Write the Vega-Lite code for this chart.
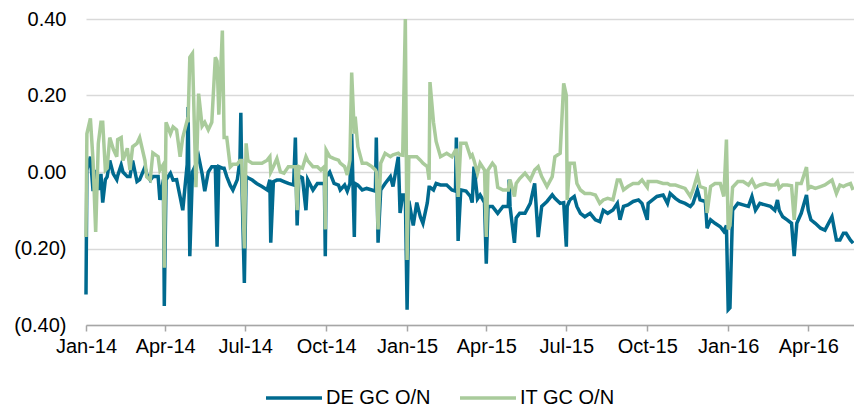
{
"$schema":"https://vega.github.io/schema/vega-lite/v6.json",
"width":768,"height":306,
"autosize":{"type":"none"},
"padding":{"left":86,"top":19,"right":0,"bottom":82},
"background":"white",
"config":{"view":{"stroke":null},"font":"Liberation Sans"},
"data":{"values":[
{"d":"2014-01-01","DE":-0.32,"IT":-0.17},
{"d":"2014-01-02","DE":0.005,"IT":0.10},
{"d":"2014-01-06","DE":0.04,"IT":0.14},
{"d":"2014-01-09","DE":-0.05,"IT":0.03},
{"d":"2014-01-12","DE":0.005,"IT":-0.157},
{"d":"2014-01-15","DE":-0.047,"IT":0.075},
{"d":"2014-01-18","DE":-0.005,"IT":0.13},
{"d":"2014-01-20","DE":-0.08,"IT":0.13},
{"d":"2014-01-23","DE":-0.02,"IT":0.005},
{"d":"2014-01-25","DE":-0.013,"IT":0.01},
{"d":"2014-01-28","DE":0.03,"IT":0.09},
{"d":"2014-02-01","DE":-0.005,"IT":0.06},
{"d":"2014-02-05","DE":-0.02,"IT":0.04},
{"d":"2014-02-06","DE":-0.01,"IT":0.085},
{"d":"2014-02-10","DE":0.018,"IT":0.09},
{"d":"2014-02-12","DE":0.0,"IT":0.03},
{"d":"2014-02-17","DE":-0.012,"IT":0.062},
{"d":"2014-02-20","DE":-0.012,"IT":0.005},
{"d":"2014-02-23","DE":0.03,"IT":0.066},
{"d":"2014-02-28","DE":-0.025,"IT":0.075},
{"d":"2014-03-03","DE":-0.02,"IT":0.09},
{"d":"2014-03-09","DE":0.013,"IT":0.03},
{"d":"2014-03-11","DE":-0.005,"IT":-0.013},
{"d":"2014-03-15","DE":-0.021,"IT":-0.021},
{"d":"2014-03-18","DE":-0.012,"IT":0.05},
{"d":"2014-03-24","DE":-0.012,"IT":0.04},
{"d":"2014-03-26","DE":-0.073,"IT":0.005},
{"d":"2014-03-30","DE":-0.02,"IT":0.02},
{"d":"2014-03-31","DE":-0.35,"IT":-0.25},
{"d":"2014-04-02","DE":-0.02,"IT":0.13},
{"d":"2014-04-07","DE":-0.003,"IT":0.10},
{"d":"2014-04-10","DE":-0.021,"IT":0.118},
{"d":"2014-04-14","DE":-0.02,"IT":0.11},
{"d":"2014-04-18","DE":-0.065,"IT":0.04},
{"d":"2014-04-21","DE":-0.10,"IT":0.09},
{"d":"2014-04-26","DE":0.02,"IT":0.135},
{"d":"2014-04-27","DE":0.17,"IT":0.13},
{"d":"2014-04-29","DE":-0.22,"IT":0.30},
{"d":"2014-05-02","DE":0.0,"IT":0.31},
{"d":"2014-05-06","DE":0.02,"IT":-0.04},
{"d":"2014-05-09","DE":0.04,"IT":0.205},
{"d":"2014-05-13","DE":-0.005,"IT":0.12},
{"d":"2014-05-16","DE":-0.05,"IT":0.13},
{"d":"2014-05-20","DE":0.0,"IT":0.11},
{"d":"2014-05-24","DE":0.014,"IT":0.13},
{"d":"2014-05-28","DE":0.014,"IT":0.30},
{"d":"2014-05-30","DE":-0.195,"IT":0.29},
{"d":"2014-06-01","DE":0.014,"IT":0.15},
{"d":"2014-06-05","DE":0.01,"IT":0.37},
{"d":"2014-06-07","DE":0.01,"IT":0.09},
{"d":"2014-06-10","DE":-0.012,"IT":0.09},
{"d":"2014-06-14","DE":-0.035,"IT":0.013},
{"d":"2014-06-17","DE":-0.047,"IT":0.02},
{"d":"2014-06-22","DE":-0.02,"IT":0.02},
{"d":"2014-06-25","DE":0.03,"IT":0.03},
{"d":"2014-06-26","DE":0.155,"IT":0.03},
{"d":"2014-06-27","DE":-0.01,"IT":0.03},
{"d":"2014-06-30","DE":-0.29,"IT":-0.20},
{"d":"2014-07-02","DE":-0.012,"IT":0.075},
{"d":"2014-07-04","DE":-0.015,"IT":0.03},
{"d":"2014-07-09","DE":-0.021,"IT":0.023},
{"d":"2014-07-14","DE":-0.03,"IT":0.023},
{"d":"2014-07-20","DE":-0.038,"IT":0.023},
{"d":"2014-07-26","DE":-0.047,"IT":0.031},
{"d":"2014-07-29","DE":-0.02,"IT":0.04},
{"d":"2014-07-30","DE":-0.185,"IT":0.0},
{"d":"2014-08-02","DE":-0.025,"IT":0.014},
{"d":"2014-08-06","DE":-0.021,"IT":0.035},
{"d":"2014-08-10","DE":-0.021,"IT":0.0},
{"d":"2014-08-14","DE":-0.025,"IT":-0.003},
{"d":"2014-08-19","DE":-0.03,"IT":0.014},
{"d":"2014-08-25","DE":-0.034,"IT":0.014},
{"d":"2014-08-27","DE":0.09,"IT":0.014},
{"d":"2014-08-29","DE":-0.14,"IT":-0.10},
{"d":"2014-08-31","DE":-0.01,"IT":0.014},
{"d":"2014-09-04","DE":-0.015,"IT":0.01},
{"d":"2014-09-08","DE":-0.10,"IT":0.04},
{"d":"2014-09-10","DE":-0.02,"IT":0.03},
{"d":"2014-09-16","DE":-0.047,"IT":0.014},
{"d":"2014-09-21","DE":-0.03,"IT":0.014},
{"d":"2014-09-25","DE":-0.03,"IT":0.005},
{"d":"2014-09-29","DE":-0.03,"IT":0.014},
{"d":"2014-09-30","DE":-0.22,"IT":-0.15},
{"d":"2014-10-01","DE":-0.012,"IT":0.057},
{"d":"2014-10-05","DE":0.0,"IT":0.04},
{"d":"2014-10-10","DE":-0.03,"IT":0.035},
{"d":"2014-10-15","DE":-0.034,"IT":0.031},
{"d":"2014-10-17","DE":-0.047,"IT":0.023},
{"d":"2014-10-22","DE":-0.034,"IT":0.014},
{"d":"2014-10-25","DE":-0.05,"IT":-0.008},
{"d":"2014-10-28","DE":-0.03,"IT":0.031},
{"d":"2014-10-30","DE":0.10,"IT":0.26},
{"d":"2014-11-02","DE":-0.17,"IT":0.10},
{"d":"2014-11-03","DE":-0.03,"IT":0.145},
{"d":"2014-11-06","DE":-0.034,"IT":0.066},
{"d":"2014-11-11","DE":-0.047,"IT":0.023},
{"d":"2014-11-16","DE":-0.043,"IT":0.023},
{"d":"2014-11-22","DE":-0.047,"IT":0.014},
{"d":"2014-11-26","DE":-0.05,"IT":0.005},
{"d":"2014-11-27","DE":0.09,"IT":0.0},
{"d":"2014-11-29","DE":-0.185,"IT":-0.15},
{"d":"2014-12-02","DE":-0.047,"IT":0.023},
{"d":"2014-12-07","DE":-0.03,"IT":0.049},
{"d":"2014-12-13","DE":-0.012,"IT":0.04},
{"d":"2014-12-16","DE":-0.038,"IT":0.045},
{"d":"2014-12-22","DE":0.04,"IT":0.049},
{"d":"2014-12-24","DE":-0.107,"IT":0.045},
{"d":"2014-12-27","DE":-0.06,"IT":0.044},
{"d":"2014-12-30","DE":-0.06,"IT":0.40},
{"d":"2015-01-01","DE":-0.36,"IT":-0.23},
{"d":"2015-01-03","DE":-0.075,"IT":0.04},
{"d":"2015-01-08","DE":-0.14,"IT":0.04},
{"d":"2015-01-12","DE":-0.08,"IT":0.04},
{"d":"2015-01-16","DE":-0.117,"IT":0.031},
{"d":"2015-01-19","DE":-0.134,"IT":0.023},
{"d":"2015-01-24","DE":-0.08,"IT":0.014},
{"d":"2015-01-26","DE":-0.04,"IT":-0.02},
{"d":"2015-01-27","DE":-0.04,"IT":0.235},
{"d":"2015-01-31","DE":-0.047,"IT":0.13},
{"d":"2015-02-03","DE":-0.03,"IT":0.08},
{"d":"2015-02-08","DE":-0.034,"IT":0.04},
{"d":"2015-02-15","DE":-0.034,"IT":0.049},
{"d":"2015-02-21","DE":-0.047,"IT":0.04},
{"d":"2015-02-25","DE":-0.05,"IT":0.057},
{"d":"2015-02-26","DE":0.09,"IT":0.057},
{"d":"2015-02-28","DE":-0.18,"IT":-0.065},
{"d":"2015-03-03","DE":-0.047,"IT":0.075},
{"d":"2015-03-09","DE":-0.05,"IT":0.075},
{"d":"2015-03-14","DE":-0.064,"IT":0.04},
{"d":"2015-03-16","DE":-0.08,"IT":0.045},
{"d":"2015-03-18","DE":0.014,"IT":0.031},
{"d":"2015-03-22","DE":-0.07,"IT":-0.003},
{"d":"2015-03-25","DE":-0.06,"IT":0.023},
{"d":"2015-03-30","DE":-0.08,"IT":0.005},
{"d":"2015-04-01","DE":-0.24,"IT":-0.17},
{"d":"2015-04-03","DE":-0.09,"IT":0.005},
{"d":"2015-04-08","DE":-0.09,"IT":0.023},
{"d":"2015-04-11","DE":-0.099,"IT":0.014},
{"d":"2015-04-14","DE":-0.108,"IT":-0.04},
{"d":"2015-04-20","DE":-0.09,"IT":-0.047},
{"d":"2015-04-26","DE":-0.09,"IT":-0.047},
{"d":"2015-04-27","DE":-0.02,"IT":-0.03},
{"d":"2015-04-28","DE":-0.09,"IT":-0.02},
{"d":"2015-05-03","DE":-0.185,"IT":-0.064},
{"d":"2015-05-05","DE":-0.12,"IT":-0.03},
{"d":"2015-05-09","DE":-0.108,"IT":-0.017},
{"d":"2015-05-15","DE":-0.108,"IT":-0.003},
{"d":"2015-05-21","DE":-0.082,"IT":-0.021},
{"d":"2015-05-26","DE":-0.03,"IT":0.005},
{"d":"2015-05-30","DE":-0.17,"IT":0.014},
{"d":"2015-06-03","DE":-0.09,"IT":-0.012},
{"d":"2015-06-09","DE":-0.077,"IT":-0.038},
{"d":"2015-06-15","DE":-0.06,"IT":-0.012},
{"d":"2015-06-18","DE":-0.069,"IT":0.04},
{"d":"2015-06-24","DE":-0.082,"IT":0.049},
{"d":"2015-06-28","DE":-0.08,"IT":0.232},
{"d":"2015-07-01","DE":-0.195,"IT":0.20},
{"d":"2015-07-02","DE":-0.09,"IT":-0.073},
{"d":"2015-07-05","DE":-0.073,"IT":0.023},
{"d":"2015-07-10","DE":-0.064,"IT":0.023},
{"d":"2015-07-13","DE":-0.09,"IT":-0.03},
{"d":"2015-07-17","DE":-0.108,"IT":-0.047},
{"d":"2015-07-22","DE":-0.117,"IT":-0.056},
{"d":"2015-07-28","DE":-0.108,"IT":-0.056},
{"d":"2015-08-03","DE":-0.125,"IT":-0.06},
{"d":"2015-08-08","DE":-0.13,"IT":-0.082},
{"d":"2015-08-12","DE":-0.10,"IT":-0.073},
{"d":"2015-08-17","DE":-0.108,"IT":-0.069},
{"d":"2015-08-23","DE":-0.099,"IT":-0.073},
{"d":"2015-08-28","DE":-0.082,"IT":-0.021},
{"d":"2015-08-31","DE":-0.125,"IT":-0.021},
{"d":"2015-09-04","DE":-0.09,"IT":-0.047},
{"d":"2015-09-09","DE":-0.086,"IT":-0.038},
{"d":"2015-09-15","DE":-0.077,"IT":-0.03},
{"d":"2015-09-21","DE":-0.073,"IT":-0.03},
{"d":"2015-09-25","DE":-0.082,"IT":-0.021},
{"d":"2015-10-01","DE":-0.125,"IT":-0.04},
{"d":"2015-10-02","DE":-0.082,"IT":-0.025},
{"d":"2015-10-07","DE":-0.073,"IT":-0.025},
{"d":"2015-10-12","DE":-0.064,"IT":-0.025},
{"d":"2015-10-19","DE":-0.06,"IT":-0.03},
{"d":"2015-10-24","DE":-0.082,"IT":-0.03},
{"d":"2015-10-27","DE":-0.056,"IT":-0.034},
{"d":"2015-11-02","DE":-0.069,"IT":-0.034},
{"d":"2015-11-07","DE":-0.077,"IT":-0.038},
{"d":"2015-11-13","DE":-0.082,"IT":-0.043},
{"d":"2015-11-19","DE":-0.09,"IT":-0.064},
{"d":"2015-11-22","DE":-0.082,"IT":-0.047},
{"d":"2015-11-27","DE":-0.047,"IT":-0.008},
{"d":"2015-11-30","DE":-0.073,"IT":-0.038},
{"d":"2015-12-06","DE":-0.077,"IT":-0.043},
{"d":"2015-12-08","DE":-0.147,"IT":-0.107},
{"d":"2015-12-12","DE":-0.125,"IT":-0.038},
{"d":"2015-12-17","DE":-0.134,"IT":-0.03},
{"d":"2015-12-23","DE":-0.143,"IT":-0.03},
{"d":"2015-12-27","DE":-0.155,"IT":-0.064},
{"d":"2015-12-30","DE":-0.14,"IT":0.085},
{"d":"2016-01-01","DE":-0.36,"IT":-0.15},
{"d":"2016-01-03","DE":-0.355,"IT":-0.14},
{"d":"2016-01-06","DE":-0.10,"IT":-0.04},
{"d":"2016-01-12","DE":-0.082,"IT":-0.025},
{"d":"2016-01-18","DE":-0.086,"IT":-0.025},
{"d":"2016-01-24","DE":-0.09,"IT":-0.034},
{"d":"2016-01-28","DE":-0.064,"IT":-0.021},
{"d":"2016-02-01","DE":-0.10,"IT":-0.04},
{"d":"2016-02-06","DE":-0.082,"IT":-0.034},
{"d":"2016-02-12","DE":-0.086,"IT":-0.03},
{"d":"2016-02-18","DE":-0.09,"IT":-0.034},
{"d":"2016-02-23","DE":-0.10,"IT":-0.034},
{"d":"2016-02-26","DE":-0.073,"IT":-0.025},
{"d":"2016-02-28","DE":-0.10,"IT":-0.043},
{"d":"2016-03-03","DE":-0.117,"IT":-0.034},
{"d":"2016-03-08","DE":-0.125,"IT":-0.034},
{"d":"2016-03-13","DE":-0.134,"IT":-0.036},
{"d":"2016-03-16","DE":-0.22,"IT":-0.125},
{"d":"2016-03-19","DE":-0.134,"IT":-0.03},
{"d":"2016-03-24","DE":-0.108,"IT":-0.03},
{"d":"2016-03-30","DE":-0.06,"IT":0.013},
{"d":"2016-04-01","DE":-0.10,"IT":-0.043},
{"d":"2016-04-04","DE":-0.125,"IT":-0.038},
{"d":"2016-04-09","DE":-0.134,"IT":-0.043},
{"d":"2016-04-15","DE":-0.147,"IT":-0.038},
{"d":"2016-04-20","DE":-0.152,"IT":-0.034},
{"d":"2016-04-28","DE":-0.117,"IT":-0.021},
{"d":"2016-05-03","DE":-0.178,"IT":-0.056},
{"d":"2016-05-07","DE":-0.178,"IT":-0.034},
{"d":"2016-05-11","DE":-0.16,"IT":-0.038},
{"d":"2016-05-14","DE":-0.16,"IT":-0.034},
{"d":"2016-05-19","DE":-0.178,"IT":-0.03},
{"d":"2016-05-22","DE":-0.186,"IT":-0.047}
]},
"transform":[{"fold":["DE","IT"],"as":["s","v"]}],
"mark":{"type":"line","strokeWidth":3.5,"clip":false},
"encoding":{
"x":{"field":"d","type":"temporal",
"scale":{"domain":[{"year":2014,"month":1,"date":1},{"year":2016,"month":5,"date":23}]},
"axis":{"title":null,"format":"%b-%y","grid":false,
"values":[{"year":2014,"month":1,"date":1},{"year":2014,"month":4,"date":1},{"year":2014,"month":7,"date":1},{"year":2014,"month":10,"date":1},{"year":2015,"month":1,"date":1},{"year":2015,"month":4,"date":1},{"year":2015,"month":7,"date":1},{"year":2015,"month":10,"date":1},{"year":2016,"month":1,"date":1},{"year":2016,"month":4,"date":1}],
"labelFontSize":20,"labelColor":"#000000","labelPadding":5,"domainColor":"#a6a6a6","domainWidth":1.5,"tickColor":"#a6a6a6","tickWidth":1.5,"tickSize":6,"labelFlush":false,"labelOverlap":false}},
"y":{"field":"v","type":"quantitative","scale":{"domain":[-0.4,0.4],"nice":false},
"axis":{"title":null,"values":[-0.4,-0.2,0,0.2,0.4],
"labelExpr":"datum.value < 0 ? '(' + format(-datum.value, '.2f') + ')' : format(datum.value, '.2f')",
"labelFontSize":20,"labelColor":"#000000","labelPadding":20,"domain":false,"ticks":false,"grid":true,"gridColor":"#d9d9d9","gridWidth":1.3}},
"color":{"field":"s","type":"nominal",
"scale":{"domain":["DE","IT"],"range":["#006a8f","#a9cb9b"]},
"legend":{"title":null,"orient":"none","legendX":178,"legendY":349,"direction":"horizontal",
"labelExpr":"datum.label == 'DE' ? 'DE GC O/N' : 'IT GC O/N'",
"symbolType":"stroke","symbolSize":3136,"symbolStrokeWidth":3.5,"labelFontSize":20,"labelColor":"#000000","labelOffset":2,"columnPadding":22}}
}
}
